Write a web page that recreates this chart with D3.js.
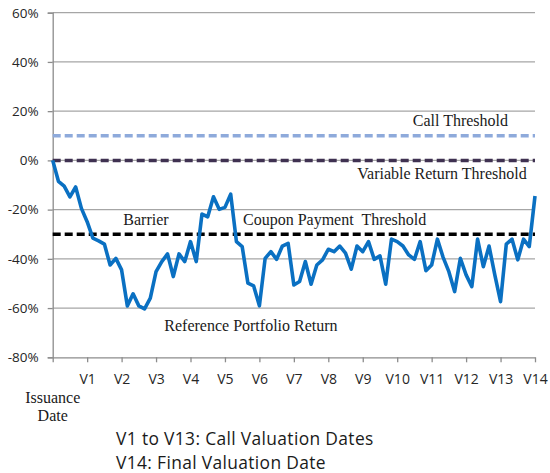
<!DOCTYPE html>
<html>
<head>
<meta charset="utf-8">
<script src="https://cdn.jsdelivr.net/npm/d3@7"></script>
<style>
  html, body { margin: 0; padding: 0; background: #fff; }
  svg { display: block; }
</style>
</head>
<body>
<svg id="chart" width="550" height="473"></svg>
<script>
// ---- data ----
const months = d3.range(0, 85); // monthly observations from issuance to V14
const portfolioReturn = [0, -8.5, -10.5, -14.8, -10.8, -19.5, -24.9, -31.6, -32.7, -34, -42.5, -39.8,
  -44.5, -59.1, -54.2, -59.1, -60.3, -56, -45.2, -41.1, -38, -47.2, -38, -41.1,
  -33, -41.1, -21.8, -22.9, -14.8, -19.9, -19.1, -13.7, -33, -35, -49.9, -51,
  -59.1, -39.8, -37.1, -40.2, -34.8, -33.7, -50.6, -49.2, -41.1, -50.3, -42.5, -40.4,
  -36.1, -37.1, -34.8, -37.7, -44.2, -34.8, -37.1, -33, -40.2, -38.8, -50.3, -32,
  -33, -34.8, -38.4, -40.2, -33, -44.8, -42.5, -32, -39.4, -45.2, -53.3, -39.8,
  -46.5, -51.3, -32, -43.2, -34.8, -46.5, -57.4, -34, -32, -40.4, -32, -35, -14.5];
const valuationLabels = ["", "V1", "V2", "V3", "V4", "V5", "V6", "V7", "V8", "V9", "V10", "V11", "V12", "V13", "V14"];
const valuationMonths = valuationLabels.map((d, i) => i * 6);
const yTickValues = [60, 40, 20, 0, -20, -40, -60, -80];
const callThreshold = 10;
const variableReturnThreshold = 0;
const barrier = -30;
const issuanceLabel = ["Issuance", "Date"];
const footnotes = ["V1 to V13: Call Valuation Dates", "V14: Final Valuation Date"];

// ---- layout ----
const svg = d3.select("#chart");
const plotLeft = 52.7, plotRight = 535, plotTop = 12.7, plotBottom = 357.3;

const x = d3.scaleLinear().domain([0, 84]).range([plotLeft, plotRight]);
const y = d3.scaleLinear().domain([-80, 60]).range([plotBottom, plotTop]);

// gridlines
svg.append("g")
  .selectAll("line")
  .data(yTickValues.filter(v => v !== -80))
  .join("line")
  .attr("x1", plotLeft).attr("x2", plotRight)
  .attr("y1", d => y(d)).attr("y2", d => y(d))
  .attr("stroke", "#a6a6a6").attr("stroke-width", 1.2);

// y axis
const yAxis = svg.append("g")
  .attr("transform", `translate(${plotLeft},0)`)
  .call(d3.axisLeft(y).tickValues(yTickValues).tickSize(5).tickPadding(9)
    .tickFormat(d => d + "%"));
yAxis.select(".domain").attr("stroke", "#8c8c8c").attr("stroke-width", 1.3);
yAxis.selectAll(".tick line").attr("stroke", "#8c8c8c").attr("stroke-width", 1.3);
yAxis.selectAll("text")
  .attr("font-family", "Open Sans")
  .attr("font-size", 13.5)
  .attr("fill", "#262626");

// x axis
const xAxis = svg.append("g")
  .attr("transform", `translate(0,${plotBottom})`)
  .call(d3.axisBottom(x).tickValues(valuationMonths).tickSize(5).tickSizeOuter(0).tickPadding(12)
    .tickFormat((d, i) => valuationLabels[i]));
xAxis.select(".domain").attr("stroke", "#8c8c8c").attr("stroke-width", 1.3);
xAxis.selectAll(".tick line").attr("stroke", "#8c8c8c").attr("stroke-width", 1.3);
xAxis.selectAll("text")
  .attr("font-family", "Open Sans")
  .attr("font-size", 14)
  .attr("fill", "#262626");

// issuance label
svg.append("text")
  .attr("font-family", "Liberation Serif")
  .attr("font-size", 16)
  .attr("fill", "#1a1a1a")
  .attr("text-anchor", "middle")
  .selectAll("tspan")
  .data(issuanceLabel)
  .join("tspan")
  .attr("x", x(0))
  .attr("y", (d, i) => 403 + i * 18)
  .text(d => d);

// threshold lines
const thresholds = [
  { v: callThreshold, color: "#8eaadb" },
  { v: variableReturnThreshold, color: "#3f3151" },
  { v: barrier, color: "#000000" }
];
svg.append("g")
  .selectAll("line")
  .data(thresholds)
  .join("line")
  .attr("x1", plotLeft).attr("x2", plotRight)
  .attr("y1", d => y(d.v)).attr("y2", d => y(d.v))
  .attr("stroke", d => d.color)
  .attr("stroke-width", 3.5)
  .attr("stroke-dasharray", "8,4");

// return line
const line = d3.line().x((d, i) => x(months[i])).y(d => y(d));
svg.append("path")
  .datum(portfolioReturn)
  .attr("d", line)
  .attr("fill", "none")
  .attr("stroke", "#0a70c2")
  .attr("stroke-width", 3.6)
  .attr("stroke-linejoin", "round");

// annotations
const ann = [
  { t: "Call Threshold", xx: 508, yy: y(callThreshold) - 9.7, a: "end" },
  { t: "Variable Return Threshold", xx: 526.7, yy: y(variableReturnThreshold) + 18.7, a: "end" },
  { t: "Barrier", xx: 123.3, yy: y(barrier) - 9.3, a: "start" },
  { t: "Coupon Payment\u00a0 Threshold", xx: 243, yy: y(barrier) - 9.3, a: "start" },
  { t: "Reference Portfolio Return", xx: 164.3, yy: 330.7, a: "start" }
];
svg.append("g")
  .selectAll("text")
  .data(ann)
  .join("text")
  .attr("x", d => d.xx)
  .attr("y", d => d.yy)
  .attr("text-anchor", d => d.a)
  .attr("font-family", "Liberation Serif")
  .attr("font-size", 16)
  .attr("fill", "#1a1a1a")
  .text(d => d.t);

// footnotes
svg.append("g")
  .selectAll("text")
  .data(footnotes)
  .join("text")
  .attr("x", 116)
  .attr("y", (d, i) => 445 + i * 24)
  .attr("font-family", "Open Sans")
  .attr("font-size", 17.4)
  .attr("letter-spacing", 0.35)
  .attr("fill", "#1a1a1a")
  .text(d => d);
</script>
</body>
</html>
